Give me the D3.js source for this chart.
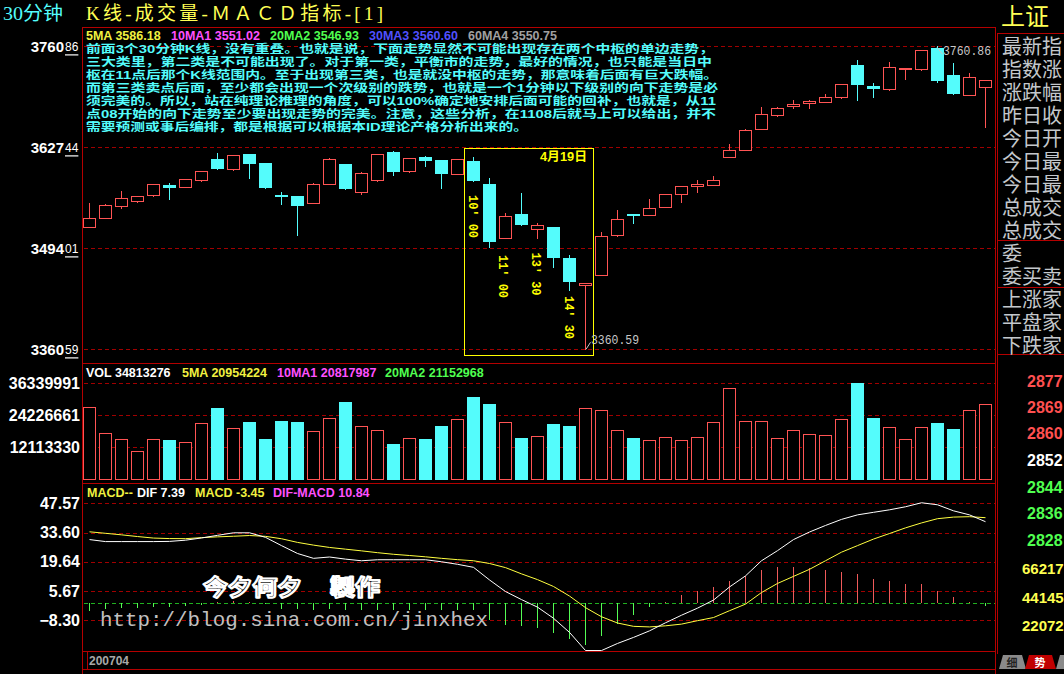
<!DOCTYPE html>
<html><head><meta charset="utf-8">
<script src="https://cdn.jsdelivr.net/npm/d3@7"></script>
<style>html,body{margin:0;padding:0;background:#000;overflow:hidden}svg{display:block}</style>
</head><body><svg id="c" width="1064" height="674"></svg>
<script>
// ---------- data ----------
const open  = [3522.5,3534.4,3550.3,3556.9,3564.8,3577.6,3575.4,3584.6,3612.0,3599.2,3618.6,3606.7,3564.4,3563.1,3554.2,3579.3,3605.4,3568.8,3584.6,3621.2,3596.5,3614.6,3610.7,3592.6,3609.3,3578.9,3508.0,3539.3,3519.1,3522.1,3481.2,3445.9,3459.1,3512.0,3539.3,3538.4,3549.0,3566.1,3576.7,3578.0,3615.0,3623.5,3652.0,3670.5,3682.4,3685.6,3687.7,3694.3,3736.2,3708.4,3704.9,3730.9,3731.3,3758.6,3722.9,3696.9,3707.5];
const high  = [3553.8,3552.5,3569.7,3562.7,3578.6,3580.3,3585.2,3595.7,3619.9,3616.9,3618.6,3606.7,3568.4,3563.1,3580.3,3613.3,3605.4,3594.8,3618.6,3622.5,3613.3,3616.3,3610.7,3612.0,3614.2,3586.9,3540.2,3567.1,3527.0,3522.1,3485.2,3448.2,3515.5,3544.6,3539.3,3559.1,3565.3,3576.3,3584.2,3589.5,3631.8,3651.6,3680.7,3680.7,3689.5,3689.9,3697.5,3710.7,3742.8,3712.4,3740.1,3731.8,3755.6,3760.86,3738.8,3725.2,3715.9];
const low   = [3522.5,3534.4,3547.6,3555.6,3563.5,3559.1,3575.4,3583.3,3598.8,3597.8,3587.3,3573.7,3552.9,3512.0,3554.2,3579.3,3572.3,3566.1,3583.3,3591.2,3595.2,3603.1,3573.7,3592.6,3583.3,3496.1,3508.0,3525.2,3508.0,3469.7,3439.3,3360.59,3459.1,3510.6,3527.8,3538.4,3549.0,3555.2,3568.8,3578.0,3615.0,3623.5,3652.0,3669.2,3679.7,3679.7,3687.7,3693.0,3689.9,3694.3,3703.5,3718.1,3730.0,3713.7,3698.2,3696.9,3654.6];
const close = [3533.6,3550.8,3560.0,3562.7,3578.6,3574.1,3585.2,3595.7,3598.8,3616.9,3605.8,3573.7,3562.2,3550.3,3578.9,3612.0,3572.3,3593.5,3618.6,3594.8,3613.3,3609.7,3592.2,3612.0,3583.3,3502.7,3536.3,3525.2,3524.4,3481.6,3449.9,3448.2,3509.9,3532.3,3538.4,3547.2,3565.3,3576.3,3578.6,3584.2,3623.5,3649.9,3671.0,3679.0,3684.2,3688.2,3693.5,3710.7,3710.1,3704.9,3733.1,3731.8,3755.6,3715.0,3698.2,3719.9,3715.9];
const volume = [27250000,17400000,15100000,10700000,15100000,14900000,14000000,21200000,27000000,19300000,21700000,15300000,22100000,21700000,18200000,23100000,29300000,20100000,18500000,13400000,15500000,15300000,20200000,22700000,31200000,28600000,21600000,15600000,16300000,20900000,20200000,26900000,26100000,18500000,15600000,14800000,15900000,14800000,15900000,21600000,34400000,22000000,22000000,15500000,18500000,17000000,16700000,22700000,36500000,23200000,19700000,15100000,19700000,21300000,19000000,26100000,28400000];
const dif = [30.25,29.29,29.29,29.29,29.29,29.38,29.96,31.02,32.27,33.48,33.48,31.31,27.36,23.60,21.29,21.92,20.91,20.13,20.62,20.62,20.62,20.62,19.65,18.45,17.00,10.98,5.44,1.59,-2.02,-7.32,-14.07,-22.74,-22.74,-19.36,-16.47,-13.34,-9.49,-5.88,-2.50,1.35,7.61,12.91,20.13,24.95,30.25,33.86,36.99,39.88,42.05,43.26,44.46,45.91,47.83,46.87,43.98,42.05,38.78];
const dea = [33.96,33.24,32.51,31.70,30.97,30.73,30.68,31.17,31.55,31.84,32.18,31.79,30.64,28.90,27.60,26.49,25.67,24.86,23.99,23.22,22.64,22.01,21.29,20.66,20.13,18.83,16.86,13.87,11.13,7.85,3.28,-2.26,-6.60,-9.59,-11.18,-11.46,-10.93,-10.12,-8.48,-6.98,-3.71,-0.58,4.96,9.30,12.67,16.04,20.13,24.23,27.36,30.49,33.14,35.84,38.20,40.22,40.99,41.18,40.70];
const macdHist = [-3.85,-2.89,-2.41,-2.41,-1.93,-1.93,-1.45,-0.96,0.63,0.96,0.63,-0.3,-2.89,-2.89,-3.23,-2.89,-3.23,-3.23,-3.23,-3.23,-3.23,-3.23,-3.52,-3.23,-3.52,-8.04,-10.74,-11.22,-12.19,-14.60,-17.00,-19.89,-15.90,-10.26,-5.92,-2.07,0.63,3.71,5.92,7.56,10.26,12.86,15.56,17.00,17.00,16.86,15.56,14.60,13.63,11.42,10.45,9.01,8.81,5.92,2.75,0.63,-1.59];

const priceTicks = [3360.59, 3494.01, 3627.44, 3760.86];
const volTicks = [12113330, 24226661, 36339991];
const macdTicks = [-8.30, 5.67, 19.64, 33.60, 47.57];

const noteLines = [
 "前面3个30分钟K线，没有重叠。也就是说，下面走势显然不可能出现存在两个中枢的单边走势，",
 "三大类里，第二类是不可能出现了。对于第一类，平衡市的走势，最好的情况，也只能是当日中",
 "枢在11点后那个K线范围内。至于出现第三类，也是就没中枢的走势，那意味着后面有巨大跌幅。",
 "而第三类卖点后面，至少都会出现一个次级别的跌势，也就是一个1分钟以下级别的向下走势是必",
 "须完美的。所以，站在纯理论推理的角度，可以100%确定地安排后面可能的回补，也就是，从11",
 "点08开始的向下走势至少要出现走势的完美。注意，这些分析，在1108后就马上可以给出，并不",
 "需要预测或事后编排，都是根据可以根据本ID理论产格分析出来的。"
];
const timeLabels = [{i:24,t:"10' 00"},{i:26,t:"11' 00"},{i:28,t:"13' 30"},{i:30,t:"14' 30"}];
const sideLabels1 = ["最新指","指数涨","涨跌幅","昨日收","今日开","今日最","今日最","总成交","总成交"];
const sideLabels2 = ["委","委买卖"];
const sideLabels3 = ["上涨家","平盘家","下跌家"];
const sideNums = [{t:"2877",c:"#ff5050"},{t:"2869",c:"#ff5050"},{t:"2860",c:"#ff5050"},{t:"2852",c:"#ffffff"},{t:"2844",c:"#50ff50"},{t:"2836",c:"#50ff50"},{t:"2828",c:"#50ff50"},{t:"66217",c:"#ffff50"},{t:"44145",c:"#ffff50"},{t:"22072",c:"#ffff50"}];

// ---------- setup ----------
const RED="#ff5454", CYAN="#54fcfc", FRAME="#b40000", GRID="#a00000";
const CJK = "Liberation Sans, Noto Sans CJK SC";
const svg = d3.select('#c');
svg.append('rect').attr('width',1064).attr('height',674).attr('fill','#000');
const n = open.length;
const x = d3.scaleLinear().domain([0,n-1]).range([89.5,985.5]);
const yP = d3.scaleLinear().domain([3360.59,3760.86]).range([349.3,46.3]);
const yV = d3.scaleLinear().domain([0,36339991]).range([479.3,383.3]);
const yM = d3.scaleLinear().domain([-8.30,47.57]).range([620.3,503.3]);
const R = v => Math.round(v);

// frames
const fr = svg.append('g').attr('stroke',FRAME).attr('stroke-width',1).attr('shape-rendering','crispEdges');
[[82.5,27,82.5,674],[995.5,27,995.5,674],[82,27.5,996,27.5],[82,363.5,996,363.5],[82,483.5,996,483.5],[82,651.5,996,651.5],[82,669.5,996,669.5],[87.5,652,87.5,669]]
 .forEach(l=>fr.append('line').attr('x1',l[0]).attr('y1',l[1]).attr('x2',l[2]).attr('y2',l[3]));
[[997.5,33,997.5,654],[997,33.5,1064,33.5],[997,240.5,1064,240.5],[997,287.5,1064,287.5],[997,354.5,1064,354.5]]
 .forEach(l=>fr.append('line').attr('x1',l[0]).attr('y1',l[1]).attr('x2',l[2]).attr('y2',l[3]));

// grid lines
function grid(ticks, sc, color){
  svg.append('g').selectAll('line').data(ticks).join('line')
   .attr('x1',84).attr('x2',995).attr('y1',d=>R(sc(d))+0.5).attr('y2',d=>R(sc(d))+0.5)
   .attr('stroke',color).attr('stroke-dasharray','4,3').attr('shape-rendering','crispEdges');
}
grid(priceTicks,yP,GRID); grid(volTicks,yV,GRID); grid(macdTicks,yM,GRID); grid([0],yM,"#20b020");

// ---------- titles ----------
svg.append('text').attr('x',3).attr('y',13).attr('dominant-baseline','central')
  .attr('font-family','Liberation Serif, Noto Sans CJK SC').attr('font-size',19).attr('fill',CYAN)
  .attr('textLength',60).attr('lengthAdjust','spacingAndGlyphs').text('30分钟');
svg.append('text').attr('x',86).attr('y',13).attr('dominant-baseline','central')
  .attr('font-family','Liberation Serif, Noto Sans CJK SC').attr('font-size',19).attr('fill','#ffff54')
  .attr('textLength',297).attr('lengthAdjust','spacing').text('K线-成交量-ＭＡＣＤ指标-[1]');
svg.append('text').attr('x',1001).attr('y',16).attr('dominant-baseline','central')
  .attr('font-family',CJK).attr('font-size',24).attr('fill','#ffff54').text('上证');

// ---------- legends ----------
function legend(y, items){
  const t = svg.append('text').attr('y',y).attr('dominant-baseline','central')
    .attr('font-family','Liberation Sans, Arial').attr('font-weight','bold').attr('font-size',12.5);
  items.forEach(it=>t.append('tspan').attr('x',it[0]).attr('fill',it[2]).text(it[1]));
}
legend(36,[[86,'5MA 3586.18','#f0f040'],[171,'10MA1 3551.02','#ff50ff'],[270,'20MA2 3546.93','#50ff50'],[369,'30MA3 3560.60','#5050ff'],[468,'60MA4 3550.75','#a0a0a0']]);
legend(373,[[86,'VOL 34813276','#ffffff'],[182,'5MA 20954224','#f0f040'],[277,'10MA1 20817987','#ff50ff'],[385,'20MA2 21152968','#50ff50']]);
legend(493,[[87,'MACD--','#f0f040'],[137,'DIF 7.39','#ffffff'],[195,'MACD -3.45','#f0f040'],[273,'DIF-MACD 10.84','#ff50ff']]);

// ---------- axis labels ----------
svg.append('g').selectAll('text').data(priceTicks).join('text')
  .attr('x',64).attr('y',d=>yP(d)).attr('text-anchor','end').attr('dominant-baseline','central').attr('fill','#fff')
  .attr('font-family','Liberation Sans, Arial').attr('font-weight','bold').attr('font-size',15)
  .text(d=>d.toFixed(2).split('.')[0]);
svg.append('g').selectAll('text').data(priceTicks).join('text')
  .attr('x',65).attr('y',d=>yP(d)+1).attr('dominant-baseline','central').attr('fill','#fff')
  .attr('font-family','Liberation Sans, Arial').attr('font-size',12).attr('text-decoration','underline')
  .text(d=>d.toFixed(2).split('.')[1]);

const axV = svg.append('g').attr('transform','translate(80,0)')
  .call(d3.axisLeft(yV).tickValues(volTicks).tickFormat(d3.format('d')).tickSize(0).tickPadding(0));
const axM = svg.append('g').attr('transform','translate(80,0)')
  .call(d3.axisLeft(yM).tickValues(macdTicks).tickFormat(d3.format('.2f')).tickSize(0).tickPadding(0));
[axV,axM].forEach(a=>{a.select('.domain').remove();
  a.selectAll('text').attr('fill','#fff').attr('font-family','Liberation Sans, Arial')
   .attr('font-weight','bold').attr('font-size',16);});

// ---------- annotation text ----------
const noteEnds=[714,712,718,718,716,716,528];
svg.append('g').selectAll('text').data(noteLines).join('text')
  .attr('x',86).attr('y',(d,i)=>48.4+13.05*i).attr('dominant-baseline','central')
  .attr('font-family',CJK).attr('font-weight','bold').attr('font-size',11.6)
  .attr('fill',CYAN).attr('textLength',(d,i)=>noteEnds[i]-86).attr('lengthAdjust','spacingAndGlyphs')
  .text(d=>d);

// ---------- candles ----------
const cg = svg.append('g').attr('shape-rendering','crispEdges');
d3.range(n).forEach(i=>{
  const cx = R(x(i)-0.5)+0.5;
  const o=open[i], c=close[i];
  const yT=R(yP(Math.max(o,c))), yB=R(yP(Math.min(o,c)));
  const yH=R(yP(high[i])), yL=R(yP(low[i]));
  if(c>=o){
    if(yH<yT) cg.append('line').attr('x1',cx).attr('x2',cx).attr('y1',yH).attr('y2',yT).attr('stroke',RED);
    if(yL>yB) cg.append('line').attr('x1',cx).attr('x2',cx).attr('y1',yB).attr('y2',yL+1).attr('stroke',RED);
    if(yB-yT>=1) cg.append('rect').attr('x',cx-6).attr('y',yT+0.5).attr('width',12).attr('height',yB-yT)
       .attr('fill','#000').attr('stroke',RED);
    else cg.append('rect').attr('x',cx-6.5).attr('y',yT).attr('width',13).attr('height',2).attr('fill',RED);
  } else {
    cg.append('line').attr('x1',cx).attr('x2',cx).attr('y1',yH).attr('y2',yL+1).attr('stroke',CYAN);
    cg.append('rect').attr('x',cx-6.5).attr('y',yT).attr('width',13).attr('height',Math.max(yB-yT,2)).attr('fill',CYAN);
  }
});

// highlight box & labels
svg.append('rect').attr('x',464.5).attr('y',148.5).attr('width',129).attr('height',207)
  .attr('fill','none').attr('stroke','#ffff00').attr('shape-rendering','crispEdges');
svg.append('text').attr('x',540).attr('y',157).attr('dominant-baseline','central')
  .attr('font-family',CJK).attr('font-weight','bold').attr('font-size',12.5)
  .attr('fill','#ffff00').attr('textLength',47).attr('lengthAdjust','spacingAndGlyphs').text('4月19日');
const tPos = {24:[472.5,216.5],26:[502.5,276.5],28:[535.5,274],30:[568.5,317.5]};
svg.append('g').selectAll('text').data(timeLabels).join('text')
  .attr('transform',d=>`translate(${tPos[d.i][0]},${tPos[d.i][1]}) rotate(90)`)
  .attr('text-anchor','middle').attr('dominant-baseline','central')
  .attr('font-family','Liberation Mono, DejaVu Sans Mono').attr('font-weight','bold').attr('font-size',13)
  .attr('fill','#ffff00').attr('textLength',43).attr('lengthAdjust','spacingAndGlyphs').text(d=>d.t);

// high / low price marks
const hi = d3.maxIndex(high), lo = d3.minIndex(low);
svg.append('line').attr('x1',x(hi)-0.5).attr('y1',yP(high[hi])+1).attr('x2',x(hi)+5).attr('y2',yP(high[hi])+8).attr('stroke','#c8c8c8');
svg.append('text').attr('x',943).attr('y',52).attr('dominant-baseline','central')
  .attr('font-family','Liberation Mono, DejaVu Sans Mono').attr('font-size',12).attr('fill','#c8c8c8')
  .attr('textLength',48).attr('lengthAdjust','spacingAndGlyphs').text(high[hi].toFixed(2));
svg.append('line').attr('x1',x(lo)+0.5).attr('y1',yP(low[lo])).attr('x2',x(lo)+5).attr('y2',yP(low[lo])-7).attr('stroke','#c8c8c8');
svg.append('text').attr('x',591).attr('y',341).attr('dominant-baseline','central')
  .attr('font-family','Liberation Mono, DejaVu Sans Mono').attr('font-size',12).attr('fill','#c8c8c8')
  .attr('textLength',48).attr('lengthAdjust','spacingAndGlyphs').text(low[lo].toFixed(2));

// ---------- volume ----------
const vg = svg.append('g').attr('shape-rendering','crispEdges');
d3.range(n).forEach(i=>{
  const cx = R(x(i)-0.5)+0.5, top=R(yV(volume[i])), base=R(yV(0));
  if(close[i]>=open[i]) vg.append('rect').attr('x',cx-6).attr('y',top+0.5).attr('width',12).attr('height',base-top)
     .attr('fill','#000').attr('stroke',RED);
  else vg.append('rect').attr('x',cx-6.5).attr('y',top).attr('width',13).attr('height',base-top+1).attr('fill',CYAN);
});

// ---------- MACD ----------
const mg = svg.append('g').attr('shape-rendering','crispEdges');
d3.range(n).forEach(i=>{
  const cx = R(x(i)-0.5)+0.5, z=R(yM(0)), v=R(yM(macdHist[i]));
  if(v===z) return;
  mg.append('line').attr('x1',cx).attr('x2',cx).attr('y1',z).attr('y2',v)
    .attr('stroke',macdHist[i]>0?'#f05a5a':'#54fc54');
});
const ln = d3.line().x((d,i)=>x(i)).y(d=>yM(d));
svg.append('path').attr('d',ln(dea)).attr('fill','none').attr('stroke','#ffff40').attr('stroke-width',1);
svg.append('path').attr('d',ln(dif)).attr('fill','none').attr('stroke','#ffffff').attr('stroke-width',1);

// watermark
const wm = svg.append('g').attr('font-family',CJK).attr('font-weight','bold').attr('font-size',22)
  .attr('fill','#000').attr('stroke','#fff').attr('stroke-width',2.2).attr('stroke-linejoin','round');
wm.append('text').attr('x',203).attr('y',587).attr('dominant-baseline','central').attr('textLength',99).attr('lengthAdjust','spacingAndGlyphs').text('今夕何夕');
wm.append('text').attr('x',330).attr('y',587).attr('dominant-baseline','central').attr('textLength',50).attr('lengthAdjust','spacingAndGlyphs').text('製作');
svg.append('text').attr('x',100).attr('y',626).attr('font-family','Liberation Mono, Courier New, monospace')
  .attr('font-size',21).attr('fill','#c0c0c0').attr('textLength',388).attr('lengthAdjust','spacingAndGlyphs')
  .text('http://blog.sina.com.cn/jinxhex');
svg.append('text').attr('x',89).attr('y',661).attr('dominant-baseline','central')
  .attr('font-family','Liberation Sans, Arial').attr('font-weight','bold').attr('font-size',12).attr('fill','#a8a8a8').text('200704');

// ---------- right panel ----------
const side = svg.append('g').attr('font-family',CJK).attr('font-size',20).attr('fill','#c4c8cc');
sideLabels1.forEach((t,k)=>side.append('text').attr('x',1002).attr('y',47+23*k).attr('dominant-baseline','central').text(t));
sideLabels2.forEach((t,k)=>side.append('text').attr('x',1002).attr('y',254+23*k).attr('dominant-baseline','central').text(t));
sideLabels3.forEach((t,k)=>side.append('text').attr('x',1002).attr('y',300+23*k).attr('dominant-baseline','central').text(t));
const numY=[381,407,433,460,487,513,540,568,597,625];
sideNums.forEach((d,k)=>svg.append('text').attr('x',d.t.length>4?1022:1027).attr('y',numY[k])
  .attr('dominant-baseline','central').attr('font-family','Liberation Sans, Arial').attr('font-weight','bold')
  .attr('font-size',d.t.length>4?15:16).attr('fill',d.c).text(d.t));
// tabs
svg.append('path').attr('d','M999,669 L1003,655 L1022,655 L1026,669 Z').attr('fill','#8a8a8a');
svg.append('path').attr('d','M1025,669 L1029,655 L1052,655 L1056,669 Z').attr('fill','#c00000');
svg.append('path').attr('d','M1056,669 L1060,655 L1064,655 L1064,669 Z').attr('fill','#8a8a8a');
svg.append('text').attr('x',1012).attr('y',663).attr('text-anchor','middle').attr('dominant-baseline','central')
  .attr('font-family',CJK).attr('font-weight','bold').attr('font-size',11).attr('fill','#222').text('细');
svg.append('text').attr('x',1040).attr('y',663).attr('text-anchor','middle').attr('dominant-baseline','central')
  .attr('font-family',CJK).attr('font-weight','bold').attr('font-size',11).attr('fill','#fff').text('势');
</script></body></html>
